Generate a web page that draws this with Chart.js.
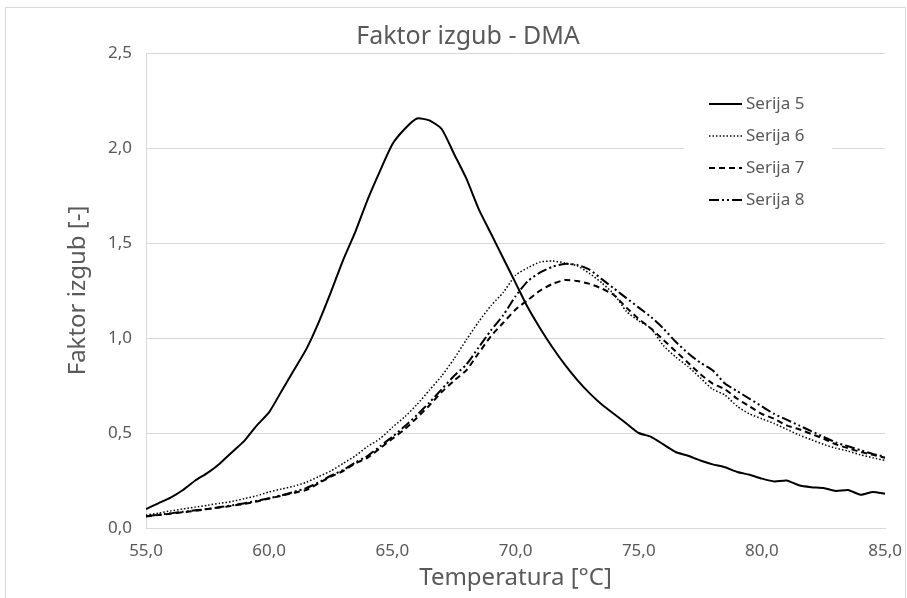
<!DOCTYPE html>
<html>
<head>
<meta charset="utf-8">
<script src="https://cdn.jsdelivr.net/npm/chart.js@4.4.1/dist/chart.umd.min.js"></script>
<style>
  html, body { margin: 0; padding: 0; background: #fff; }
  #frame { position: absolute; left: 5px; top: 7px; width: 899px; height: 620px; border: 1px solid #d9d9d9; }
  #wrap { position: absolute; left: 0; top: 0; width: 907px; height: 598px; overflow: hidden; }
  canvas { position: absolute; left: 0; top: 0; }
</style>
</head>
<body>
<div id="wrap">
  <div id="frame"></div>
  <canvas id="dmaChart" width="907" height="598"></canvas>
</div>
<script>
// temperatura [°C]
const temperature = [
  55.0, 55.5, 56.0, 56.5, 57.0, 57.5, 58.0, 58.5, 59.0, 59.5,
  60.0, 60.5, 61.0, 61.5, 62.0, 62.5, 63.0, 63.5, 64.0, 64.5,
  65.0, 65.5, 66.0, 66.5, 67.0, 67.5, 68.0, 68.5, 69.0, 69.5,
  70.0, 70.5, 71.0, 71.5, 72.0, 72.5, 73.0, 73.5, 74.0, 74.5,
  75.0, 75.5, 76.0, 76.5, 77.0, 77.5, 78.0, 78.5, 79.0, 79.5,
  80.0, 80.5, 81.0, 81.5, 82.0, 82.5, 83.0, 83.5, 84.0, 84.5, 85.0
];

// faktor izgub po serijah
const serija5 = [
  0.10, 0.13, 0.16, 0.20, 0.25, 0.29, 0.34, 0.40, 0.46, 0.54,
  0.61, 0.72, 0.83, 0.94, 1.08, 1.24, 1.41, 1.56, 1.73, 1.88,
  2.02, 2.10, 2.155, 2.145, 2.10, 1.97, 1.84, 1.68, 1.55, 1.42,
  1.29, 1.16, 1.05, 0.95, 0.86, 0.78, 0.71, 0.65, 0.60, 0.55,
  0.50, 0.48, 0.44, 0.40, 0.38, 0.355, 0.335, 0.32, 0.295, 0.28,
  0.26, 0.245, 0.25, 0.225, 0.215, 0.21, 0.195, 0.20, 0.175, 0.19, 0.18
];
const serija6 = [
  0.068, 0.078, 0.09, 0.10, 0.11, 0.12, 0.13, 0.14, 0.155, 0.17,
  0.19, 0.205, 0.22, 0.24, 0.27, 0.30, 0.34, 0.38, 0.43, 0.47,
  0.53, 0.585, 0.65, 0.725, 0.80, 0.89, 0.99, 1.085, 1.17, 1.24,
  1.33, 1.37, 1.40, 1.405, 1.395, 1.38, 1.34, 1.29, 1.23, 1.14,
  1.09, 1.05, 0.96, 0.90, 0.85, 0.79, 0.73, 0.70, 0.64, 0.60,
  0.575, 0.55, 0.52, 0.49, 0.465, 0.44, 0.42, 0.405, 0.385, 0.37, 0.355
];
const serija7 = [
  0.06, 0.068, 0.075, 0.083, 0.09, 0.10, 0.108, 0.117, 0.127, 0.14,
  0.155, 0.17, 0.185, 0.20, 0.235, 0.27, 0.30, 0.34, 0.37, 0.42,
  0.47, 0.52, 0.58, 0.645, 0.715, 0.775, 0.83, 0.92, 1.01, 1.08,
  1.15, 1.20, 1.25, 1.285, 1.305, 1.30, 1.285, 1.26, 1.225, 1.16,
  1.10, 1.05, 0.99, 0.93, 0.87, 0.81, 0.76, 0.73, 0.68, 0.64,
  0.60, 0.575, 0.54, 0.52, 0.495, 0.47, 0.44, 0.42, 0.40, 0.385, 0.37
];
const serija8 = [
  0.062, 0.07, 0.077, 0.085, 0.093, 0.10, 0.11, 0.12, 0.13, 0.143,
  0.157, 0.172, 0.19, 0.21, 0.24, 0.275, 0.305, 0.345, 0.38, 0.43,
  0.48, 0.535, 0.595, 0.66, 0.73, 0.80, 0.86, 0.95, 1.04, 1.12,
  1.22, 1.30, 1.345, 1.375, 1.39, 1.385, 1.36, 1.31, 1.26, 1.21,
  1.16, 1.11, 1.05, 0.98, 0.92, 0.87, 0.83, 0.76, 0.72, 0.68,
  0.64, 0.60, 0.57, 0.54, 0.51, 0.48, 0.45, 0.43, 0.41, 0.39, 0.375
];

const seriesNames = ['Serija 5', 'Serija 6', 'Serija 7', 'Serija 8'];
const xTicks = [55, 60, 65, 70, 75, 80, 85];
const yTicks = [0, 0.5, 1.0, 1.5, 2.0, 2.5];

const textColor = '#595959';
const gridColor = '#d9d9d9';
const fontFamily = '"Noto Sans", "Open Sans", sans-serif';

function toPoints(values) {
  return temperature.map((t, i) => ({ x: t, y: values[i] }));
}

function fmt(v) {
  return v.toFixed(1).replace('.', ',');
}

// legenda z vzorci črt
const lineLegend = {
  id: 'lineLegend',
  afterDraw(chart) {
    const ctx = chart.ctx;
    ctx.save();
    ctx.fillStyle = '#fff';
    ctx.fillRect(684, 88, 148, 126);
    ctx.font = '17px ' + fontFamily;
    ctx.textBaseline = 'middle';
    chart.data.datasets.forEach((ds, i) => {
      const y = 104 + i * 32;
      ctx.beginPath();
      ctx.strokeStyle = '#000';
      ctx.lineWidth = ds.borderWidth;
      ctx.setLineDash(ds.borderDash || []);
      ctx.moveTo(709, y);
      ctx.lineTo(742, y);
      ctx.stroke();
      ctx.setLineDash([]);
      ctx.fillStyle = textColor;
      ctx.fillText(ds.label, 746, y);
    });
    ctx.restore();
  }
};

const ctx = document.getElementById('dmaChart');
new Chart(ctx.getContext('2d'), {
  type: 'line',
  data: {
    datasets: [
      { label: seriesNames[0], data: toPoints(serija5), borderColor: '#000', borderWidth: 2 },
      { label: seriesNames[1], data: toPoints(serija6), borderColor: '#000', borderWidth: 1.5, borderDash: [1.5, 2] },
      { label: seriesNames[2], data: toPoints(serija7), borderColor: '#000', borderWidth: 2, borderDash: [6, 4] },
      { label: seriesNames[3], data: toPoints(serija8), borderColor: '#000', borderWidth: 2, borderDash: [10, 3, 2, 3, 2, 3] }
    ]
  },
  options: {
    responsive: false,
    animation: false,
    elements: {
      point: { radius: 0 },
      line: { tension: 0.2, fill: false, borderCapStyle: 'butt' }
    },
    layout: { padding: { left: 64, top: 53, right: 18, bottom: 0 } },
    plugins: {
      legend: { display: false },
      tooltip: { enabled: false },
      title: { display: false }
    },
    scales: {
      x: {
        type: 'linear',
        min: 55,
        max: 85,
        afterBuildTicks: (scale) => { scale.ticks = xTicks.map(v => ({ value: v })); },
        afterFit: (scale) => { scale.height = 70; },
        grid: { display: false },
        border: { display: true, color: gridColor, width: 1 },
        ticks: {
          color: textColor,
          font: { family: fontFamily, size: 17 },
          padding: 5,
          maxRotation: 0,
          callback: (v) => fmt(v)
        },
        title: {
          display: true,
          text: 'Temperatura [°C]',
          color: textColor,
          font: { family: fontFamily, size: 24 },
          padding: { top: 0, bottom: 5 }
        }
      },
      y: {
        min: 0,
        max: 2.5,
        afterBuildTicks: (scale) => { scale.ticks = yTicks.map(v => ({ value: v })); },
        afterFit: (scale) => { scale.width = 82; },
        grid: { color: gridColor, lineWidth: 1, drawTicks: false },
        border: { display: true, color: gridColor, width: 1 },
        ticks: {
          color: textColor,
          font: { family: fontFamily, size: 17 },
          padding: 14,
          callback: (v) => fmt(v)
        },
        title: {
          display: true,
          text: 'Faktor izgub [-]',
          color: textColor,
          font: { family: fontFamily, size: 24 },
          padding: { top: 0, bottom: 0 }
        }
      }
    }
  },
  plugins: [lineLegend, {
    id: 'chartTitle',
    afterDraw(chart) {
      const c = chart.ctx;
      c.save();
      c.fillStyle = textColor;
      c.font = '25px ' + fontFamily;
      c.textAlign = 'center';
      c.textBaseline = 'middle';
      c.fillText('Faktor izgub - DMA', 468, 37);
      c.restore();
    }
  }]
});
</script>
</body>
</html>
